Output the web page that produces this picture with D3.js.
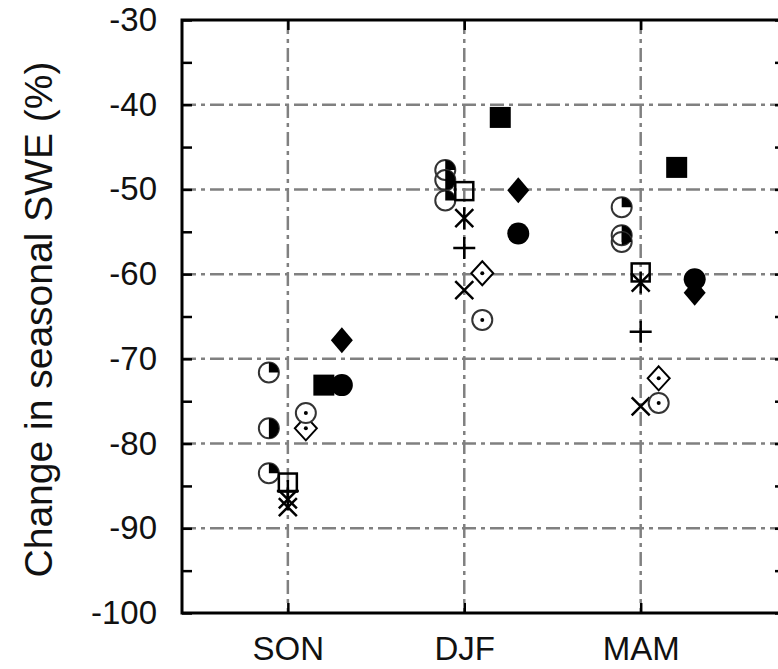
<!DOCTYPE html>
<html>
<head>
<meta charset="utf-8">
<script src="https://cdn.jsdelivr.net/npm/d3@7"></script>
<style>
  body { margin: 0; background: #fff; }
  svg { display: block; font-family: "Liberation Sans", Arial, sans-serif; }
</style>
</head>
<body>
<div id="chart"></div>
<script>
const width = 778, height = 669;

// seasons on the x axis
const seasons = ["SON", "DJF", "MAM"];

// y axis ticks
const yMajorTicks = [-100, -90, -80, -70, -60, -50, -40, -30];
const yMinorTicks = [-95, -85, -75, -65, -55, -45, -35];
const yLabel = "Change in seasonal SWE (%)";

// values, one per season (SON, DJF, MAM)
const quarterCircleA = [-71.6, -47.7, -52.1];
const halfCircle     = [-78.2, -48.9, -55.4];
const quarterCircleB = [-83.5, -51.3, -56.2];
const openSquare     = [-84.6, -50.2, -59.8];
const plusSign       = [-85.6, -56.9, -66.8];
const asterisk       = [-86.6, -53.4, -61.0];
const crossX         = [-87.5, -61.9, -75.6];
const dotDiamond     = [-78.2, -59.9, -72.3];
const dotCircle      = [-76.4, -65.4, -75.2];
const filledSquare   = [-73.1, -41.5, -47.4];
const filledCircle   = [-73.1, -55.2, -60.6];
const filledDiamond  = [-67.8, -50.1, -62.2];

const series = [
    { name: "quarterCircleA", values: quarterCircleA },
    { name: "halfCircle", values: halfCircle },
    { name: "quarterCircleB", values: quarterCircleB },
    { name: "openSquare", values: openSquare },
    { name: "plusSign", values: plusSign },
    { name: "asterisk", values: asterisk },
    { name: "crossX", values: crossX },
    { name: "dotDiamond", values: dotDiamond },
    { name: "dotCircle", values: dotCircle },
    { name: "filledSquare", values: filledSquare },
    { name: "filledCircle", values: filledCircle },
    { name: "filledDiamond", values: filledDiamond },
];

// marker look and horizontal shift (px) from the season line
const markerStyle = {
    quarterCircleA: { shape: "pie", fillTo: Math.PI / 2, dx: -19 },
    halfCircle:     { shape: "pie", fillTo: Math.PI, dx: -19 },
    quarterCircleB: { shape: "pie", fillTo: Math.PI / 2, dx: -19 },
    openSquare:     { shape: "openSquare", dx: 0 },
    plusSign:       { shape: "plus", dx: 0 },
    asterisk:       { shape: "asterisk", dx: 0 },
    crossX:         { shape: "cross", dx: 0 },
    dotDiamond:     { shape: "dotDiamond", dx: 18 },
    dotCircle:      { shape: "dotCircle", dx: 18 },
    filledSquare:   { shape: "filledSquare", dx: 36 },
    filledCircle:   { shape: "filledCircle", dx: 54 },
    filledDiamond:  { shape: "filledDiamond", dx: 54 },
};

const plotLeft = 182, plotRight = 785, plotTop = 20, plotBottom = 613;

const svg = d3.select("#chart")
    .append("svg")
    .attr("width", width)
    .attr("height", height);

const x = d3.scaleLinear().domain([-0.6, 2.818]).range([plotLeft, plotRight]);
const y = d3.scaleLinear().domain([-100, -30]).range([plotBottom, plotTop]);

// grid lines (dash-dot grey)
const grid = svg.append("g")
    .attr("stroke", "#808080")
    .attr("stroke-width", 2.5)
    .attr("stroke-dasharray", "14,5,4,5");

grid.selectAll(".hgrid")
    .data(yMajorTicks.filter(d => d > -100 && d < -30))
    .enter()
    .append("line")
    .attr("x1", plotLeft).attr("x2", plotRight)
    .attr("y1", d => y(d)).attr("y2", d => y(d));

grid.selectAll(".vgrid")
    .data(seasons)
    .enter()
    .append("line")
    .attr("x1", (d, i) => x(i)).attr("x2", (d, i) => x(i))
    .attr("y1", plotTop).attr("y2", plotBottom);

// axes with inward ticks
const fontSize = 33;

const yAxis = svg.append("g")
    .attr("transform", `translate(${plotLeft},0)`)
    .call(d3.axisLeft(y).tickValues(yMajorTicks).tickFormat(d => String(d))
        .tickSize(-10).tickPadding(25));
yAxis.select(".domain").remove();

const yMinor = svg.append("g")
    .attr("transform", `translate(${plotLeft},0)`)
    .call(d3.axisLeft(y).tickValues(yMinorTicks).tickFormat("").tickSize(-10));
yMinor.select(".domain").remove();

const yRight = svg.append("g")
    .attr("transform", `translate(${plotRight},0)`)
    .call(d3.axisRight(y).tickValues(yMajorTicks.concat(yMinorTicks)).tickFormat("").tickSize(-10));
yRight.select(".domain").remove();

const xAxis = svg.append("g")
    .attr("transform", `translate(0,${plotBottom})`)
    .call(d3.axisBottom(x).tickValues([0, 1, 2]).tickFormat(i => seasons[i])
        .tickSize(-10).tickPadding(24));
xAxis.select(".domain").remove();

const xTop = svg.append("g")
    .attr("transform", `translate(0,${plotTop})`)
    .call(d3.axisTop(x).tickValues([0, 1, 2]).tickFormat("").tickSize(-10));
xTop.select(".domain").remove();

svg.selectAll(".tick line")
    .attr("stroke", "#000")
    .attr("stroke-width", 2.5);

svg.selectAll(".tick text")
    .attr("fill", "#111")
    .style("font-size", fontSize + "px")
    .style("font-family", "'Liberation Sans', Arial, sans-serif");

// frame
svg.append("rect")
    .attr("x", plotLeft).attr("y", plotTop)
    .attr("width", plotRight - plotLeft).attr("height", plotBottom - plotTop)
    .attr("fill", "none")
    .attr("stroke", "#000")
    .attr("stroke-width", 3);

// y axis title
svg.append("text")
    .attr("transform", `translate(52,${(plotTop + plotBottom) / 2 + 3}) rotate(-90)`)
    .attr("text-anchor", "middle")
    .attr("fill", "#111")
    .style("font-size", "39px")
    .text(yLabel);

// markers
const arc = d3.arc().innerRadius(0).outerRadius(10);

function drawMarker(g, shape, st) {
    const ink = "#000";
    if (shape === "pie") {
        g.append("circle").attr("r", 10)
            .attr("fill", "none").attr("stroke", "#333").attr("stroke-width", 2);
        g.append("path").attr("d", arc({ startAngle: 0, endAngle: st.fillTo }))
            .attr("fill", ink);
    } else if (shape === "openSquare") {
        g.append("rect").attr("x", -9).attr("y", -9).attr("width", 18).attr("height", 18)
            .attr("fill", "none").attr("stroke", ink).attr("stroke-width", 2.5);
    } else if (shape === "plus") {
        g.append("path").attr("d", "M-11,0H11M0,-11V11")
            .attr("stroke", ink).attr("stroke-width", 2.5);
    } else if (shape === "cross") {
        g.append("path").attr("d", "M-9,-9L9,9M-9,9L9,-9")
            .attr("stroke", ink).attr("stroke-width", 2.5);
    } else if (shape === "asterisk") {
        g.append("path").attr("d", "M-9,-9L9,9M-9,9L9,-9M0,-11V11")
            .attr("stroke", ink).attr("stroke-width", 2.5);
    } else if (shape === "dotDiamond") {
        g.append("path").attr("d", "M0,-12L11,0L0,12L-11,0Z")
            .attr("fill", "#fff").attr("stroke", ink).attr("stroke-width", 2);
        g.append("circle").attr("r", 2).attr("fill", ink);
    } else if (shape === "dotCircle") {
        g.append("circle").attr("r", 10)
            .attr("fill", "#fff").attr("stroke", "#333").attr("stroke-width", 2);
        g.append("circle").attr("r", 2).attr("fill", ink);
    } else if (shape === "filledSquare") {
        g.append("rect").attr("x", -10.5).attr("y", -10.5).attr("width", 21).attr("height", 21)
            .attr("fill", ink);
    } else if (shape === "filledCircle") {
        g.append("circle").attr("r", 11).attr("fill", ink);
    } else if (shape === "filledDiamond") {
        g.append("path").attr("d", "M0,-13L11,0L0,13L-11,0Z").attr("fill", ink);
    }
}

series.forEach(s => {
    const st = markerStyle[s.name];
    svg.append("g")
        .attr("class", "series " + s.name)
        .selectAll("g")
        .data(s.values)
        .enter()
        .append("g")
        .attr("transform", (d, i) => `translate(${x(i) + st.dx},${y(d)})`)
        .each(function () { drawMarker(d3.select(this), st.shape, st); });
});
</script>
</body>
</html>
